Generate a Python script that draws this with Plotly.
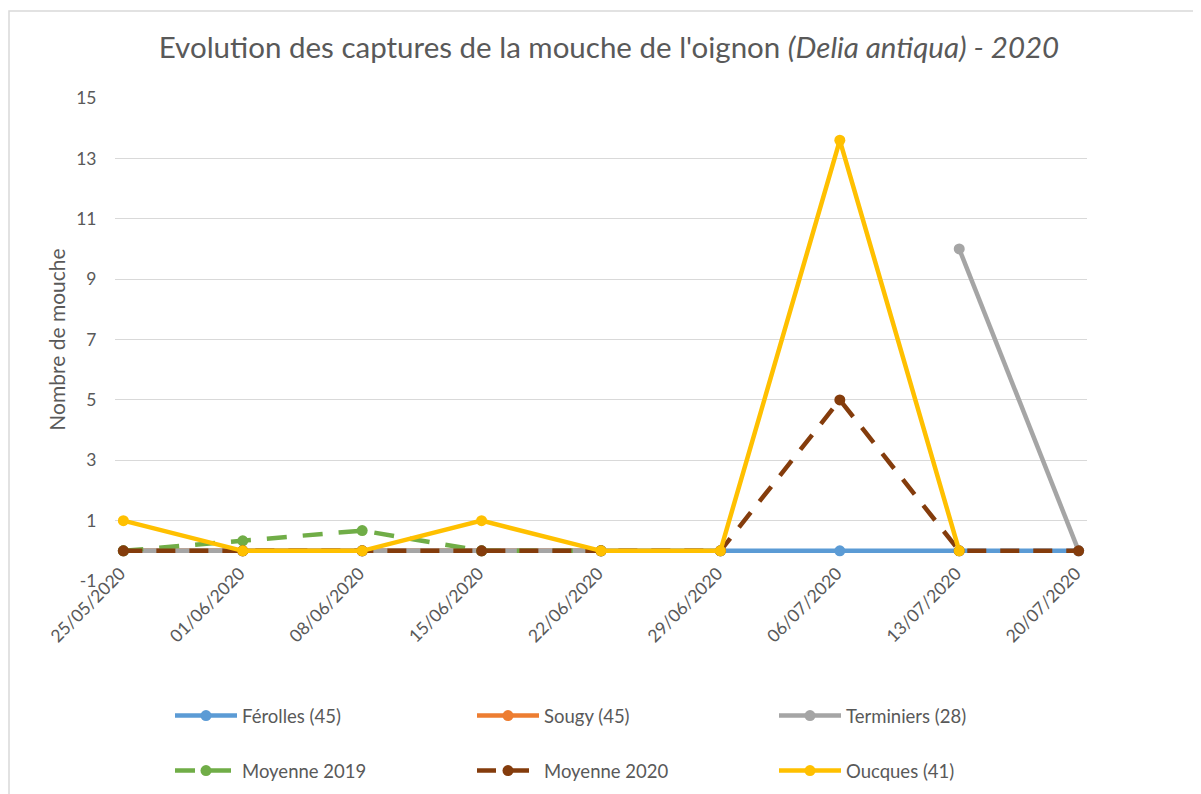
import plotly.graph_objects as go

dates = ["25/05/2020", "01/06/2020", "08/06/2020", "15/06/2020", "22/06/2020",
         "29/06/2020", "06/07/2020", "13/07/2020", "20/07/2020"]

ferolles = [0, 0, 0, 0, 0, 0, 0, 0, 0]
sougy = [0, 0, 0, 0, 0, None, None, None, None]
terminiers = [0, 0, 0, 0, 0, 0, None, 10, 0]
moyenne_2019 = [0, 0.33, 0.67, 0, 0, None, None, None, None]
moyenne_2020 = [0, 0, 0, 0, 0, 0, 5, 0, 0]
oucques = [1, 0, 0, 1, 0, 0, 13.6, 0, None]

y_ticks = [-1, 1, 3, 5, 7, 9, 11, 13, 15]

series = [
    ("Férolles (45)", ferolles, "#5B9BD5", "solid", "legend"),
    ("Sougy (45)", sougy, "#ED7D31", "solid", "legend"),
    ("Terminiers (28)", terminiers, "#A5A5A5", "solid", "legend"),
    ("Moyenne 2019", moyenne_2019, "#70AD47", "20px,16px", "legend2"),
    ("Moyenne 2020", moyenne_2020, "#843C0C", "19px,14px", "legend2"),
    ("Oucques (41)", oucques, "#FFC000", "solid", "legend2"),
]

FONT = "Lato, 'Open Sans', sans-serif"
GREY = "#595959"

fig = go.Figure()
for name, vals, color, dash, leg in series:
    fig.add_trace(go.Scatter(
        x=dates, y=vals, name=name, mode="lines+markers",
        line=dict(color=color, width=4.5, dash=dash),
        marker=dict(color=color, size=11),
        connectgaps=False, legend=leg,
    ))

# page offset of the plot div (default body margin)
OFF = 8
W, H = 1201 - OFF, 794 - OFF
ml = 115 - OFF
mt = 98 - OFF
mr = W - (1087 - OFF)
mb = H - (581 - OFF)
pw, ph = W - ml - mr, H - mt - mb

def px_x(x):
    return (x - OFF - ml) / pw

def px_y(y):
    return 1 - (y - OFF - mt) / ph

fig.update_layout(
    width=W, height=H,
    margin=dict(l=ml, r=mr, t=mt, b=mb, autoexpand=False),
    paper_bgcolor="white", plot_bgcolor="white",
    font=dict(family=FONT, color=GREY, size=18),
    title=dict(
        text="Evolution des captures de la mouche de l'oignon <i>(Delia antiqua) - 2020</i>",
        x=(609 - OFF) / W, xanchor="center", y=1 - (48 - OFF) / H, yanchor="middle",
        font=dict(family=FONT, size=29.5, color=GREY),
    ),
    xaxis=dict(
        type="category", range=[-0.07, 8.07],
        tickangle=-45, tickfont=dict(size=17.5, color=GREY),
        showgrid=False, showline=False, zeroline=False,
        ticks="", ticklabelstandoff=-22, ticklabelshift=-3,
    ),
    yaxis=dict(
        range=[-1, 15], tickmode="array", tickvals=y_ticks,
        ticktext=[str(v) for v in y_ticks],
        showgrid=True, gridcolor="#d9d9d9", gridwidth=1.3,
        zeroline=False, showline=False,
        ticks="outside", ticklen=14, tickcolor="rgba(0,0,0,0)",
        tickfont=dict(size=17.5, color=GREY),
        title=dict(text="Nombre de mouche", font=dict(size=21, color=GREY), standoff=4),
    ),
    legend=dict(
        orientation="h", x=px_x(170), xanchor="left", y=px_y(716), yanchor="middle",
        entrywidth=225, entrywidthmode="pixels",
        font=dict(size=18.5, color=GREY), itemwidth=62, bgcolor="rgba(0,0,0,0)",
    ),
    legend2=dict(
        orientation="h", x=px_x(170), xanchor="left", y=px_y(771), yanchor="middle",
        entrywidth=225, entrywidthmode="pixels",
        font=dict(size=18.5, color=GREY), itemwidth=62, bgcolor="rgba(0,0,0,0)",
    ),
    shapes=[
        dict(type="rect", xref="paper", yref="paper",
             x0=px_x(OFF + 1), x1=px_x(1260), y0=px_y(11), y1=px_y(860),
             line=dict(color="#d9d9d9", width=1.5), fillcolor="rgba(0,0,0,0)", layer="below"),
    ],
)

fig.write_html("out.html")
